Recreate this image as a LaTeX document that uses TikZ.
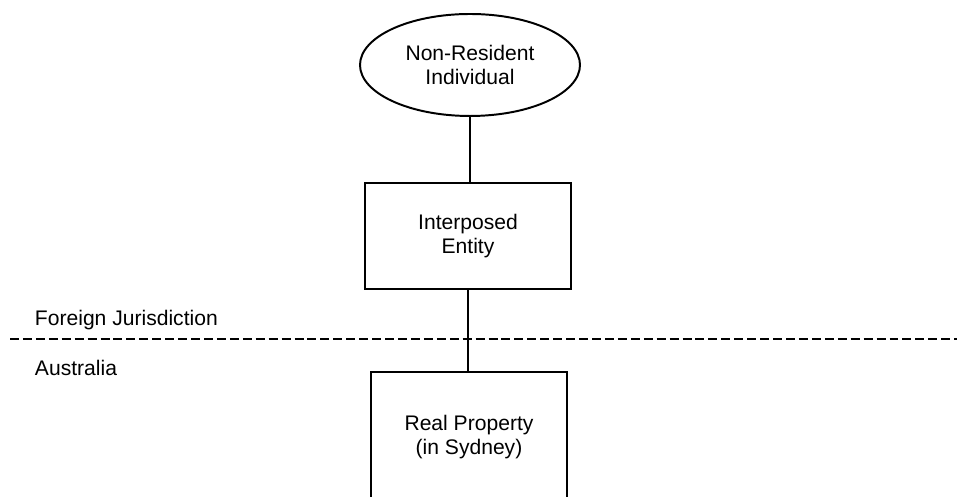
\documentclass[tikz,border=0pt]{standalone}
\usepackage{fontspec}
\setmainfont{Liberation Sans}
\usepackage{tikz}
\usetikzlibrary{shapes.geometric, positioning, calc}

\begin{document}
\begin{tikzpicture}[
    every node/.style={font=\fontsize{15}{16.5}\selectfont, align=center},
    entitybox/.style={draw, line width=1.4pt, rectangle, minimum width=5.15cm},
    personoval/.style={draw, line width=1.4pt, ellipse, minimum width=5.5cm, minimum height=2.55cm},
    link/.style={line width=1.4pt},
    border/.style={line width=1.4pt, dash pattern=on 6.4pt off 2.8pt}
  ]
  \useasboundingbox (0,0) rectangle (23.925,12.425);
  % Ownership chain
  \node[personoval] (person) at (11.75,10.8) {Non-Resident\\Individual};
  \node[entitybox, minimum height=2.65cm] (entity) at (11.7,6.525) {Interposed\\Entity};
  \node[entitybox, minimum width=4.9cm, minimum height=3.25cm] (property) at (11.725,1.5) {Real Property\\(in Sydney)};
  \draw[link] (person.south) -- (person.south |- entity.north);
  \draw[link] (entity.south) -- (entity.south |- property.north);
  % Jurisdiction border
  \coordinate (borderL) at (0.25,3.95);
  \coordinate (borderR) at (23.925,3.95);
  \draw[border] (borderL) -- (borderR);
  \node[anchor=west] (foreign) at (0.75,4.425) {Foreign Jurisdiction};
  \node[anchor=west] (aus) at (0.75,3.225) {Australia};
\end{tikzpicture}
\end{document}
